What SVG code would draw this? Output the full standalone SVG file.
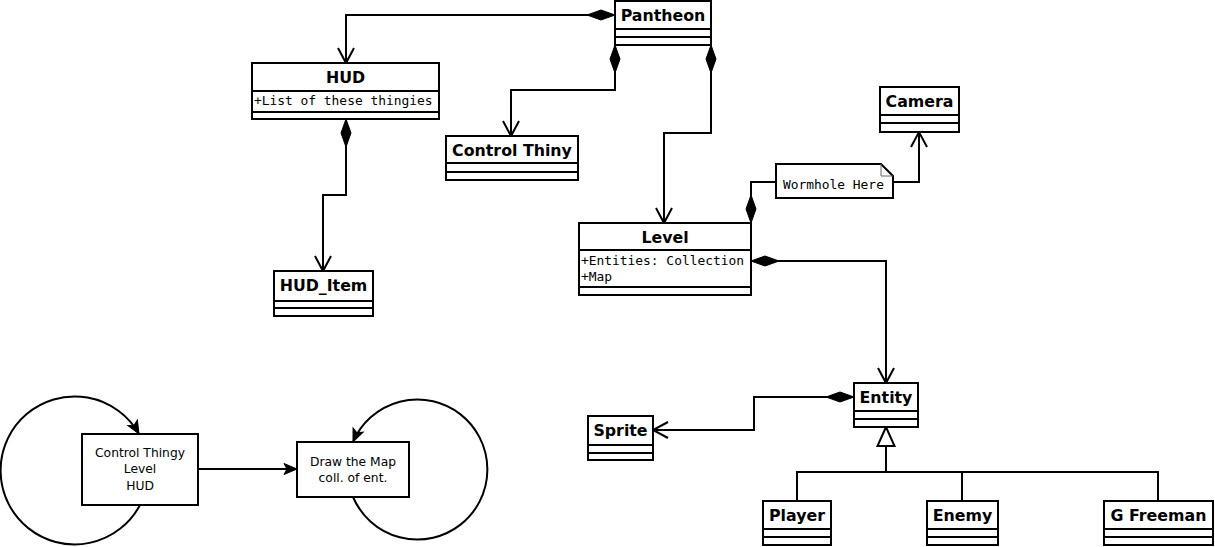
<svg xmlns="http://www.w3.org/2000/svg" width="1215" height="547" viewBox="0 0 1215 547">
<style>
.box{fill:#fff;stroke:#000;stroke-width:2}
.sep{stroke:#000;stroke-width:2}
.title{font-family:"DejaVu Sans",sans-serif;font-weight:bold;font-size:15.8px;text-anchor:middle;fill:#000}
.attr{font-family:"DejaVu Sans Mono",monospace;font-size:12.9px;fill:#000}
.lbl{font-family:"DejaVu Sans",sans-serif;font-size:12.3px;text-anchor:middle;fill:#000}
.edge{fill:none;stroke:#000;stroke-width:2}
.fold{fill:none;stroke:#666;stroke-width:1}
</style>
<defs>
<marker id="diamond" markerUnits="userSpaceOnUse" orient="auto-start-reverse" refX="0" refY="0" markerWidth="40" markerHeight="20" viewBox="-30 -10 40 20" overflow="visible">
<path d="M0,0 L-14,-5 L-28,0 L-14,5 Z" fill="#000" stroke="#000" stroke-width="1"/>
</marker>
<marker id="open" markerUnits="userSpaceOnUse" orient="auto" refX="0" refY="0" markerWidth="20" markerHeight="20" viewBox="-18 -10 20 20" overflow="visible">
<path d="M-15,-8 L0,0 L-15,8" fill="none" stroke="#000" stroke-width="2"/>
</marker>
<marker id="tri" markerUnits="userSpaceOnUse" orient="auto" refX="0" refY="0" markerWidth="24" markerHeight="20" viewBox="-22 -10 24 20" overflow="visible">
<path d="M0,0 L-19,-8.5 L-19,8.5 Z" fill="#fff" stroke="#000" stroke-width="2"/>
</marker>
<marker id="filled" markerUnits="userSpaceOnUse" orient="auto" refX="0" refY="0" markerWidth="16" markerHeight="14" viewBox="-15 -7 16 14" overflow="visible">
<path d="M0,0 L-13,-5.5 L-10,0 L-13,5.5 Z" fill="#000" stroke="#000" stroke-width="1"/>
</marker>
</defs>

<g id="connectors">
<path class="edge" d="M615,15 H346 V63" marker-start="url(#diamond)" marker-end="url(#open)"/>
<path class="edge" d="M615,45 V90 H511 V136" marker-start="url(#diamond)" marker-end="url(#open)"/>
<path class="edge" d="M711,45 V133 H664 V223" marker-start="url(#diamond)" marker-end="url(#open)"/>
<path class="edge" d="M346,119 V195 H323 V271" marker-start="url(#diamond)" marker-end="url(#open)"/>
<path class="edge" d="M751,223 V182 H776" marker-start="url(#diamond)"/>
<path class="edge" d="M893,182 H919 V132" marker-end="url(#open)"/>
<path class="edge" d="M751,261 H886 V383" marker-start="url(#diamond)" marker-end="url(#open)"/>
<path class="edge" d="M854,397 H754 V430 H653" marker-start="url(#diamond)" marker-end="url(#open)"/>
<path class="edge" d="M797,501 V472 H1158 V501"/>
<path class="edge" d="M962,472 V501"/>
<path class="edge" d="M886,472 V427" marker-end="url(#tri)"/>
<path class="edge" d="M140,505 A74,74 0 1 1 139,434" marker-end="url(#filled)"/>
<path class="edge" d="M198,469 H297" marker-end="url(#filled)"/>
<path class="edge" d="M353,497 A70,70 0 1 0 353,442" marker-end="url(#filled)"/>
</g>

<g id="pantheon">
<rect class="box" x="615" y="1" width="96" height="44"/>
<line class="sep" x1="615" y1="29" x2="711" y2="29"/>
<line class="sep" x1="615" y1="37" x2="711" y2="37"/>
<text class="title" x="663" y="21">Pantheon</text>
</g>

<g id="hud">
<rect class="box" x="252" y="63" width="187" height="56"/>
<line class="sep" x1="252" y1="91" x2="439" y2="91"/>
<line class="sep" x1="252" y1="112" x2="439" y2="112"/>
<text class="title" x="345.5" y="83">HUD</text>
<text class="attr" x="254" y="105">+List of these thingies</text>
</g>

<g id="control-thiny">
<rect class="box" x="446" y="136" width="132" height="44"/>
<line class="sep" x1="446" y1="163" x2="578" y2="163"/>
<line class="sep" x1="446" y1="172" x2="578" y2="172"/>
<text class="title" x="512" y="156">Control Thiny</text>
</g>

<g id="hud-item">
<rect class="box" x="274" y="271" width="99" height="45"/>
<line class="sep" x1="274" y1="301" x2="373" y2="301"/>
<line class="sep" x1="274" y1="308" x2="373" y2="308"/>
<text class="title" x="323.5" y="291">HUD_Item</text>
</g>

<g id="camera">
<rect class="box" x="880" y="87" width="79" height="45"/>
<line class="sep" x1="880" y1="115" x2="959" y2="115"/>
<line class="sep" x1="880" y1="123" x2="959" y2="123"/>
<text class="title" x="919.5" y="107">Camera</text>
</g>

<g id="note">
<path d="M776,164 H881 L893,176 V198 H776 Z" fill="#fff" stroke="#000" stroke-width="2"/>
<path class="fold" d="M881,164 V176 H893"/>
<text class="attr" x="783" y="189">Wormhole Here</text>
</g>

<g id="level">
<rect class="box" x="579" y="223" width="172" height="72"/>
<line class="sep" x1="579" y1="250" x2="751" y2="250"/>
<line class="sep" x1="579" y1="287" x2="751" y2="287"/>
<text class="title" x="665" y="243">Level</text>
<text class="attr" x="581" y="265">+Entities: Collection</text>
<text class="attr" x="581" y="281">+Map</text>
</g>

<g id="entity">
<rect class="box" x="854" y="383" width="64" height="44"/>
<line class="sep" x1="854" y1="411" x2="918" y2="411"/>
<line class="sep" x1="854" y1="419" x2="918" y2="419"/>
<text class="title" x="886" y="403">Entity</text>
</g>

<g id="sprite">
<rect class="box" x="588" y="416" width="65" height="44"/>
<line class="sep" x1="588" y1="445" x2="653" y2="445"/>
<line class="sep" x1="588" y1="453" x2="653" y2="453"/>
<text class="title" x="620.5" y="436">Sprite</text>
</g>

<g id="player">
<rect class="box" x="763" y="501" width="68" height="44"/>
<line class="sep" x1="763" y1="529" x2="831" y2="529"/>
<line class="sep" x1="763" y1="537" x2="831" y2="537"/>
<text class="title" x="797" y="521">Player</text>
</g>

<g id="enemy">
<rect class="box" x="927" y="501" width="71" height="44"/>
<line class="sep" x1="927" y1="529" x2="998" y2="529"/>
<line class="sep" x1="927" y1="537" x2="998" y2="537"/>
<text class="title" x="962.5" y="521">Enemy</text>
</g>

<g id="g-freeman">
<rect class="box" x="1104" y="501" width="109" height="44"/>
<line class="sep" x1="1104" y1="529" x2="1213" y2="529"/>
<line class="sep" x1="1104" y1="537" x2="1213" y2="537"/>
<text class="title" x="1158.5" y="521">G Freeman</text>
</g>

<g id="state-left">
<rect class="box" x="82" y="434" width="116" height="71"/>
<text class="lbl" x="140" y="457">Control Thingy</text>
<text class="lbl" x="140" y="473">Level</text>
<text class="lbl" x="140" y="490">HUD</text>
</g>

<g id="state-right">
<rect class="box" x="297" y="442" width="112" height="55"/>
<text class="lbl" x="353" y="466">Draw the Map</text>
<text class="lbl" x="353" y="482">coll. of ent.</text>
</g>
</svg>
